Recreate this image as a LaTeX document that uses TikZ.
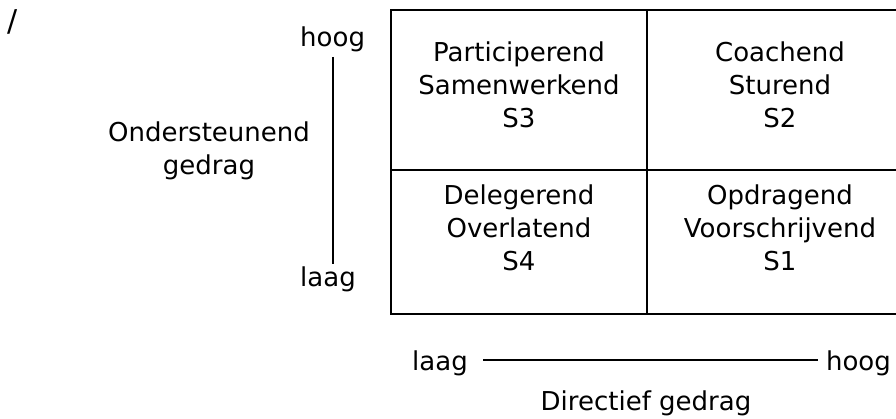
\documentclass[tikz,border=0pt]{standalone}
\usepackage{fontspec}
\setmainfont{DejaVu Sans}
\begin{document}
\begin{tikzpicture}[x=1pt,y=-1pt,
  lbl/.style={inner sep=0pt,anchor=base,font=\fontsize{26}{33}\selectfont},
  cell/.style={lbl,align=center},
  rule/.style={line width=2pt,black}]
\useasboundingbox (0,0) rectangle (896,419);
% grid
\coordinate (tl) at (391,10.5);
\coordinate (tr) at (900,10.5);
\coordinate (ml) at (391,170.5);
\coordinate (mr) at (900,170.5);
\coordinate (bl) at (391,314);
\coordinate (br) at (900,314);
\coordinate (dt) at (647,10.5);
\coordinate (db) at (647,314);
\draw[rule] (tr) -- (tl) -- (bl) -- (br);
\draw[rule] (ml) -- (mr);
\draw[rule] (dt) -- (db);
% cells (base anchor = last line's baseline)
\node[cell] (s3) at (519,128) {Participerend\\Samenwerkend\\S3};
\node[cell] (s2) at (780,128) {Coachend\\Sturend\\S2};
\node[cell] (s4) at (519,271) {Delegerend\\Overlatend\\S4};
\node[cell] (s1) at (780,271) {Opdragend\\Voorschrijvend\\S1};
% slash
\node[lbl,font=\fontsize{30}{36}\selectfont] (sl) at (13,32) {/};
% vertical axis
\node[lbl,anchor=base west] (vh) at (300,47) {hoog};
\node[lbl,anchor=base west] (vl) at (300,287) {laag};
\coordinate (vt) at (333,57);
\coordinate (vb) at (333,264);
\draw[rule] (vt) -- (vb);
\node[cell] (og) at (209,175) {Ondersteunend\\gedrag};
% horizontal axis
\node[lbl,anchor=base west] (hl) at (412,370) {laag};
\node[lbl,anchor=base east] (hh) at (891,370) {hoog};
\coordinate (ha) at (483,360);
\coordinate (hb) at (818,360);
\draw[rule] (ha) -- (hb);
\node[lbl] (dg) at (646,410) {Directief gedrag};
\end{tikzpicture}
\end{document}
